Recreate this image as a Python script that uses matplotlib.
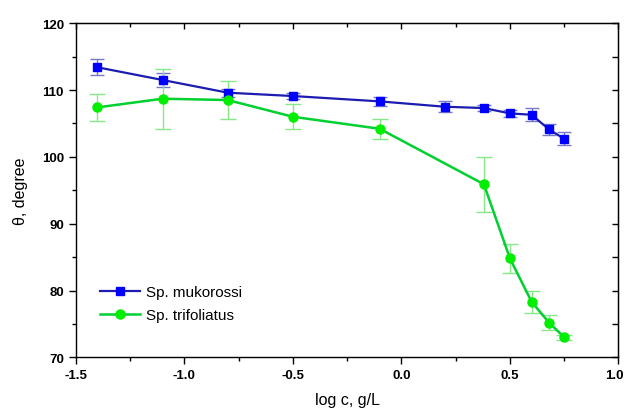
import matplotlib
matplotlib.use("Agg")
import matplotlib.pyplot as plt
import matplotlib.transforms as mtransforms
from matplotlib.ticker import MultipleLocator

plt.rcParams['font.family'] = ['Liberation Sans', 'DejaVu Sans']

x_muk = [-1.4, -1.1, -0.8, -0.5, -0.1, 0.2, 0.38, 0.5, 0.6, 0.68, 0.75]
y_muk = [113.4, 111.5, 109.6, 109.1, 108.3, 107.5, 107.3, 106.5, 106.3, 104.1, 102.7]
e_muk = [1.2, 1.0, 0.6, 0.4, 0.7, 0.8, 0.5, 0.5, 1.0, 0.8, 1.0]

x_tri = [-1.4, -1.1, -0.8, -0.5, -0.1, 0.38, 0.5, 0.6, 0.68, 0.75]
y_tri = [107.4, 108.7, 108.5, 106.0, 104.2, 95.9, 84.8, 78.3, 75.2, 73.0]
e_tri = [2.0, 4.5, 2.8, 1.9, 1.5, 4.1, 2.2, 1.6, 1.1, 0.4]

fig = plt.figure(figsize=(6.26, 4.10), dpi=100)
ax = fig.add_axes([0.121, 0.126, 0.867, 0.815])

ax.errorbar(x_muk, y_muk, yerr=e_muk, fmt='none', ecolor='#7878c8', elinewidth=1.0,
            capsize=5, capthick=1.0, zorder=2)
ax.errorbar(x_tri, y_tri, yerr=e_tri, fmt='none', ecolor='#88e888', elinewidth=1.0,
            capsize=6, capthick=1.0, zorder=2)
ax.plot(x_muk, y_muk, color='#1c1cb0', lw=1.6, marker='s', ms=5.5,
        mfc='#0000ff', mec='#0000ff', label='Sp. mukorossi', zorder=3)
ax.plot(x_tri, y_tri, color='#00d030', lw=1.8, marker='o', ms=6.5,
        mfc='#00ee00', mec='#00ee00', label='Sp. trifoliatus', zorder=3)

ax.set_xlim(-1.5, 1.0)
ax.set_ylim(70, 120)
ax.xaxis.set_major_locator(MultipleLocator(0.5))
ax.xaxis.set_minor_locator(MultipleLocator(0.25))
ax.yaxis.set_major_locator(MultipleLocator(10))
ax.yaxis.set_minor_locator(MultipleLocator(5))
ax.set_xticks([-1.5, -1.0, -0.5, 0.0, 0.5, 1.0])
ax.set_xticklabels(['-1.5', '-1.0', '-0.5', '0.0', '0.5', '1.0'])

ax.tick_params(which='both', direction='out', top=False, right=False, width=1.0, labelsize=9.5)
ax.tick_params(which='major', length=5)
ax.tick_params(which='minor', length=3)
for lab in ax.get_xticklabels() + ax.get_yticklabels():
    lab.set_fontweight('bold')
last = ax.get_xticklabels()[-1]
last.set_transform(last.get_transform() +
                   mtransforms.ScaledTranslation(-4 / 100, 0, fig.dpi_scale_trans))

# inward ticks on top and right spines
sec_x = ax.secondary_xaxis('top')
sec_x.xaxis.set_major_locator(MultipleLocator(0.5))
sec_x.xaxis.set_minor_locator(MultipleLocator(0.25))
sec_x.tick_params(which='both', direction='in', labeltop=False, width=1.0)
sec_x.tick_params(which='major', length=4)
sec_x.tick_params(which='minor', length=3)
sec_y = ax.secondary_yaxis('right')
sec_y.yaxis.set_major_locator(MultipleLocator(10))
sec_y.yaxis.set_minor_locator(MultipleLocator(5))
sec_y.tick_params(which='both', direction='in', labelright=False, width=1.0, length=4)

for s in ax.spines.values():
    s.set_linewidth(1.0)

ax.set_xlabel('log c, g/L', fontsize=11.5, labelpad=8)
ax.set_ylabel('θ, degree', fontsize=11.5, labelpad=10)

ax.legend(loc='lower left', bbox_to_anchor=(0.02, 0.065), frameon=False, fontsize=11,
          handlelength=2.6, handletextpad=0.4, labelspacing=0.55)

fig.savefig('out.png', dpi=100)
